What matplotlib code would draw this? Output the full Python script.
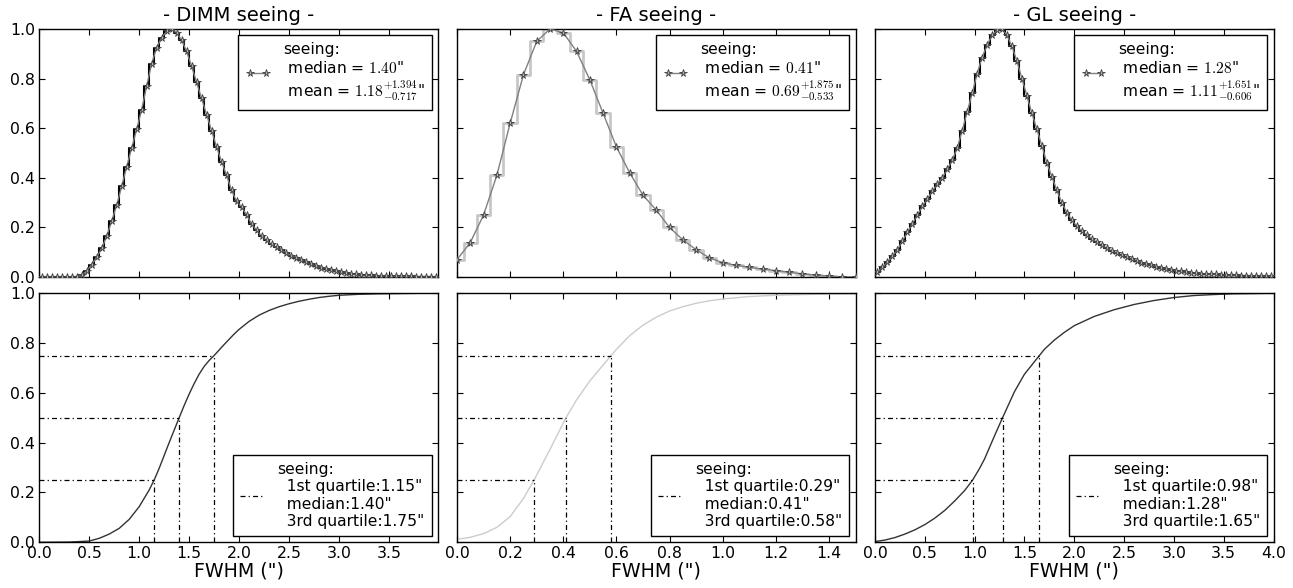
import numpy as np
import matplotlib
matplotlib.use("Agg")
import matplotlib.pyplot as plt

plt.rcParams['font.family'] = ['DejaVu Sans']
plt.rcParams['mathtext.fontset'] = 'cm'
plt.rcParams['mathtext.rm'] = 'serif'

# ---------------- data ----------------
titles = ["- DIMM seeing -", "- FA seeing -", "- GL seeing -"]
xmax = [3.99, 1.5, 4.0]

# normalised histograms (bin centres / heights)
dimm_centers = [0.025 + 0.05 * i for i in range(80)]
dimm_hist = [0.0, 0.0, 0.0, 0.0, 0.0, 0.001, 0.001, 0.002, 0.008, 0.025,
             0.05, 0.08, 0.115, 0.165, 0.225, 0.29, 0.365, 0.445, 0.52, 0.595,
             0.675, 0.77, 0.86, 0.925, 0.965, 0.99, 1.0, 0.985, 0.955, 0.91,
             0.85, 0.785, 0.72, 0.655, 0.59, 0.525, 0.465, 0.41, 0.35, 0.305,
             0.283, 0.25, 0.215, 0.188, 0.166, 0.148, 0.132, 0.119, 0.107, 0.096,
             0.086, 0.077, 0.068, 0.059, 0.051, 0.044, 0.038, 0.033, 0.028, 0.023,
             0.019, 0.016, 0.013, 0.011, 0.009, 0.008, 0.007, 0.006, 0.005, 0.005,
             0.004, 0.004, 0.003, 0.003, 0.003, 0.002, 0.002, 0.002, 0.002, 0.001]

fa_centers = [0.05 * i for i in range(31)]
fa_hist = [0.07, 0.139, 0.25, 0.41, 0.62, 0.815, 0.95, 1.0, 0.985, 0.91,
           0.795, 0.66, 0.525, 0.42, 0.33, 0.27, 0.20, 0.15, 0.11, 0.077,
           0.058, 0.047, 0.039, 0.032, 0.026, 0.019, 0.013, 0.007, 0.003, 0.001,
           0.0]

gl_centers = [0.025 + 0.05 * i for i in range(80)]
gl_hist = [0.02, 0.04, 0.06, 0.085, 0.11, 0.145, 0.18, 0.215, 0.25, 0.285,
           0.315, 0.345, 0.375, 0.40, 0.435, 0.47, 0.52, 0.59, 0.665, 0.74,
           0.82, 0.885, 0.935, 0.975, 0.995, 1.0, 0.975, 0.93, 0.87, 0.80,
           0.73, 0.66, 0.595, 0.53, 0.46, 0.405, 0.35, 0.30, 0.26, 0.23,
           0.205, 0.185, 0.168, 0.155, 0.14, 0.128, 0.116, 0.105, 0.095, 0.087,
           0.08, 0.072, 0.065, 0.058, 0.052, 0.047, 0.042, 0.037, 0.033, 0.029,
           0.026, 0.023, 0.020, 0.018, 0.016, 0.014, 0.013, 0.012, 0.011, 0.010,
           0.009, 0.008, 0.007, 0.006, 0.006, 0.005, 0.005, 0.004, 0.004, 0.003]

# cumulative distributions
dimm_cdf_x = [0, 0.3, 0.5, 0.6, 0.7, 0.8, 0.9, 1.0, 1.1, 1.15, 1.2, 1.3, 1.4,
              1.45, 1.5, 1.55, 1.6, 1.65, 1.7, 1.75, 1.8, 1.85, 1.9, 1.95, 2.0,
              2.1, 2.2, 2.3, 2.4, 2.5, 2.6, 2.7, 2.8, 2.9, 3.0, 3.2, 3.4, 3.6,
              3.8, 3.99]
dimm_cdf_y = [0, 0.001, 0.005, 0.016, 0.033, 0.056, 0.092, 0.143, 0.21, 0.25,
              0.297, 0.40, 0.50, 0.549, 0.595, 0.637, 0.675, 0.706, 0.73, 0.75,
              0.772, 0.794, 0.815, 0.836, 0.855, 0.887, 0.912, 0.931, 0.946,
              0.958, 0.968, 0.976, 0.983, 0.988, 0.992, 0.996, 0.998, 0.999,
              1.0, 1.0]

fa_cdf_x = [0, 0.05, 0.1, 0.15, 0.2, 0.25, 0.29, 0.35, 0.41, 0.45, 0.5, 0.55,
            0.58, 0.6, 0.65, 0.7, 0.75, 0.8, 0.85, 0.9, 0.95, 1.0, 1.1, 1.2,
            1.3, 1.4, 1.5]
fa_cdf_y = [0.012, 0.02, 0.035, 0.06, 0.103, 0.176, 0.25, 0.373, 0.50, 0.572,
            0.648, 0.712, 0.75, 0.775, 0.83, 0.872, 0.904, 0.929, 0.946, 0.96,
            0.97, 0.977, 0.987, 0.992, 0.995, 0.997, 0.998]

gl_cdf_x = [0, 0.1, 0.2, 0.3, 0.4, 0.5, 0.6, 0.7, 0.8, 0.9, 0.98, 1.05, 1.1,
            1.2, 1.28, 1.4, 1.5, 1.6, 1.65, 1.7, 1.8, 1.9, 2.0, 2.2, 2.4, 2.6,
            2.8, 3.0, 3.2, 3.4, 3.6, 3.8, 4.0]
gl_cdf_y = [0.003, 0.009, 0.019, 0.033, 0.05, 0.071, 0.097, 0.128, 0.166,
            0.208, 0.25, 0.297, 0.335, 0.428, 0.50, 0.605, 0.675, 0.725, 0.75,
            0.775, 0.812, 0.843, 0.87, 0.907, 0.934, 0.955, 0.971, 0.983,
            0.991, 0.995, 0.998, 0.999, 1.0]

medians = [1.40, 0.41, 1.28]
means = [1.18, 0.69, 1.11]
mean_up = [1.394, 1.875, 1.651]
mean_dn = [0.717, 0.533, 0.606]
q1 = [1.15, 0.29, 0.98]
q3 = [1.75, 0.58, 1.65]

centers_all = [dimm_centers, fa_centers, gl_centers]
hist_all = [dimm_hist, fa_hist, gl_hist]
cdfx_all = [dimm_cdf_x, fa_cdf_x, gl_cdf_x]
cdfy_all = [dimm_cdf_y, fa_cdf_y, gl_cdf_y]

step_colors = ['black', '0.78', 'black']
step_lw = [1.5, 2.0, 1.5]
cdf_colors = ['0.2', '0.8', '0.2']

# ---------------- figure ----------------
W, H = 1293, 588
fig = plt.figure(figsize=(W / 100, H / 100), dpi=100)
lefts = [39.3, 457.0, 875.0]
aw = 398.5

def place(l, top, bottom):
    return [l / W, 1 - bottom / H, aw / W, (bottom - top) / H]

dd = (0, (4, 2.5, 1, 2.5))
LFS = 11.2

for i in range(3):
    axt = fig.add_axes(place(lefts[i], 29.0, 277.0))
    axb = fig.add_axes(place(lefts[i], 293.3, 542.3))

    # top: histogram
    axt.step(centers_all[i], hist_all[i], where='mid', color=step_colors[i],
             lw=step_lw[i], zorder=2)
    lab = ('seeing:\n median = $%.2f$"\n mean = $%.2f^{+%.3f}_{-%.3f}$"'
           % (medians[i], means[i], mean_up[i], mean_dn[i]))
    axt.plot(centers_all[i], hist_all[i], '-', color='0.5', lw=1,
             marker='*', ms=5.5, mfc='0.7', mec='0.25', mew=0.6, zorder=3,
             label=lab)
    axt.set_xlim(0, xmax[i])
    axt.set_ylim(0, 1)
    axt.set_title(titles[i], fontsize=14, pad=6)
    leg = axt.legend(loc='upper right', numpoints=2, fontsize=LFS,
                     fancybox=False, framealpha=1, edgecolor='black',
                     handlelength=1.6, borderpad=0.45, borderaxespad=0.4)
    leg.get_frame().set_linewidth(1.0)

    # bottom: CDF
    axb.plot(cdfx_all[i], cdfy_all[i], '-', color=cdf_colors[i], lw=1.0)
    qs = [q1[i], medians[i], q3[i]]
    ps = [0.25, 0.5, 0.75]
    for k in range(3):
        lbl = None
        if k == 0:
            lbl = ('seeing:\n  1st quartile:%.2f"\n  median:%.2f"\n  3rd quartile:%.2f"'
                   % (q1[i], medians[i], q3[i]))
        axb.plot([0, qs[k]], [ps[k], ps[k]], color='black', lw=0.9,
                 linestyle=dd, label=lbl)
        axb.plot([qs[k], qs[k]], [0, ps[k]], color='black', lw=0.9,
                 linestyle=dd)
    axb.set_xlim(0, xmax[i])
    axb.set_ylim(0, 1)
    axb.set_xlabel('FWHM (")', fontsize=13.7, labelpad=0)
    leg2 = axb.legend(loc='lower right', fontsize=LFS, fancybox=False,
                      framealpha=1, edgecolor='black', handlelength=1.6,
                      borderpad=0.45, borderaxespad=0.4)
    leg2.get_frame().set_linewidth(1.0)

    for ax in (axt, axb):
        ax.tick_params(direction='in', top=True, right=True, length=4,
                       width=0.8, labelsize=11.3, pad=3)
        ax.set_yticks([0, 0.2, 0.4, 0.6, 0.8, 1.0])
        for s in ax.spines.values():
            s.set_linewidth(1.0)
        if i > 0:
            ax.set_yticklabels([])
    axt.set_xticks(axb.get_xticks())
    axt.set_xlim(0, xmax[i])
    axt.set_xticklabels([])

fig.savefig('out.png', dpi=100, facecolor='white')
